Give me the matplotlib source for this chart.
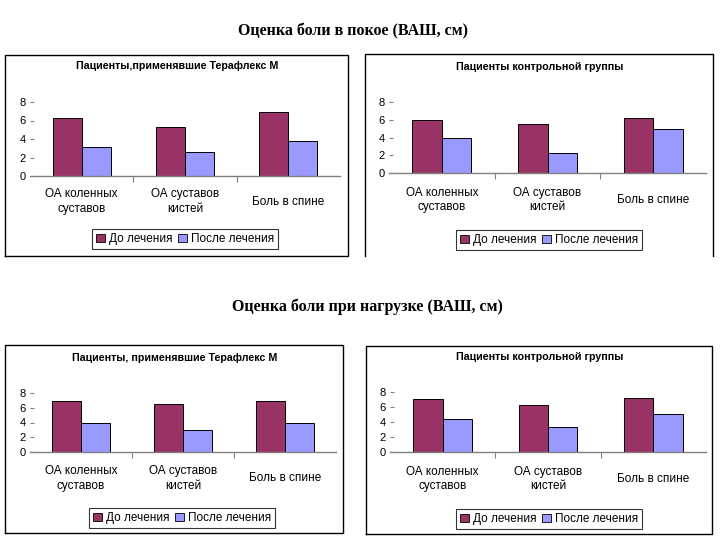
import matplotlib
matplotlib.use("Agg")
import matplotlib.pyplot as plt
from matplotlib.patches import Patch
from matplotlib.lines import Line2D
import numpy as np

plt.rcParams['font.family'] = ['Liberation Sans', 'DejaVu Sans']

categories = ["ОА коленных\nсуставов", "ОА суставов\nкистей", "Боль в спине"]
series_names = ["До лечения", "После лечения"]
yticks = [0, 2, 4, 6, 8]

rest_thera_before = [6.3, 5.3, 6.9]
rest_thera_after = [3.1, 2.6, 3.8]
rest_ctrl_before = [6.0, 5.5, 6.25]
rest_ctrl_after = [3.9, 2.2, 5.0]
load_thera_before = [6.9, 6.5, 6.9]
load_thera_after = [3.9, 3.0, 3.9]
load_ctrl_before = [7.1, 6.3, 7.25]
load_ctrl_after = [4.35, 3.3, 5.05]

title_rest = "Оценка боли в покое (ВАШ, см)"
title_load = "Оценка боли при нагрузке (ВАШ, см)"
panel_titles = ["Пациенты,применявшие Терафлекс М", "Пациенты контрольной группы",
                "Пациенты, применявшие Терафлекс М", "Пациенты контрольной группы"]

C_BEFORE = "#993366"
C_AFTER = "#9999FF"
GRAY = "#808080"

W, H = 720, 540
fig = plt.figure(figsize=(7.2, 5.4), dpi=100)
fig.patch.set_facecolor("white")


def fx(x):
    return x / W


def fy(y):
    return 1 - y / H


def box(x0, y0, x1, y1, bottom=True):
    pts = [(x0, y1), (x0, y0), (x1, y0), (x1, y1)]
    if bottom:
        pts.append((x0, y1))
    xs = [fx(p[0]) for p in pts]
    ys = [fy(p[1]) for p in pts]
    fig.add_artist(Line2D(xs, ys, color="black", lw=1.0, transform=fig.transFigure))


def panel(ax_px, before, after, title, title_xy, leg_xy, lab_off):
    x0, x1, ytop, yzero = ax_px
    ax = fig.add_axes([fx(x0), fy(yzero), (x1 - x0) / W, (yzero - ytop) / H])
    idx = np.arange(len(categories))
    bw = 0.28
    ax.bar(idx - bw / 2, before, bw, color=C_BEFORE, edgecolor="black", lw=0.7)
    ax.bar(idx + bw / 2, after, bw, color=C_AFTER, edgecolor="black", lw=0.7)
    ax.set_xlim(-0.5, len(categories) - 0.5)
    ax.set_ylim(0, 8)
    for s in ["top", "right", "left"]:
        ax.spines[s].set_visible(False)
    ax.spines["bottom"].set_color(GRAY)
    ax.spines["bottom"].set_linewidth(1.0)
    ax.set_yticks(yticks)
    ax.set_yticklabels([str(t) for t in yticks], fontsize=8)
    ax.tick_params(axis="y", direction="in", length=3, color=GRAY, pad=3)
    ax.set_xticks([0.5, 1.5])
    ax.set_xticklabels([])
    ax.tick_params(axis="x", direction="out", length=4, color=GRAY)
    ax.patch.set_alpha(0)
    for i, lab in enumerate(categories):
        ax.annotate(lab, (i, 0), xycoords=("data", "axes fraction"),
                    xytext=(0, -lab_off), textcoords="offset points",
                    ha="center", va="center", fontsize=8.5, linespacing=1.3)
    fig.text(fx(title_xy[0]), fy(title_xy[1]), title, ha="center", va="center",
             fontsize=7.7, fontweight="bold")
    handles = [Patch(facecolor=C_BEFORE, edgecolor="black", lw=0.6),
               Patch(facecolor=C_AFTER, edgecolor="black", lw=0.6)]
    leg = fig.legend(handles, series_names, loc="center",
                     bbox_to_anchor=(fx(leg_xy[0]), fy(leg_xy[1])),
                     ncol=2, fontsize=8.5, frameon=True, fancybox=False,
                     handlelength=0.75, handleheight=0.75, handletextpad=0.3,
                     columnspacing=0.5, borderpad=0.35, borderaxespad=0)
    leg.get_frame().set_edgecolor("black")
    leg.get_frame().set_linewidth(0.8)
    return ax


fig.text(fx(353), fy(31), title_rest, ha="center", va="center", fontsize=11.5,
         fontweight="bold", family=["Liberation Serif", "DejaVu Serif"])
fig.text(fx(367), fy(307), title_load, ha="center", va="center", fontsize=11.5,
         fontweight="bold", family=["Liberation Serif", "DejaVu Serif"])

box(5, 55, 348, 256)
box(365, 54, 713, 256, bottom=False)
box(5, 345, 343, 533)
box(366, 346, 712, 534)

panel((30, 340, 102, 176), rest_thera_before, rest_thera_after,
      panel_titles[0], (177, 66), (185, 239), 18.5)
panel((389, 706, 102, 173), rest_ctrl_before, rest_ctrl_after,
      panel_titles[1], (540, 67), (549, 240), 19.5)
panel((30, 336, 393, 452), load_thera_before, load_thera_after,
      panel_titles[2], (175, 358), (182, 518), 19)
panel((390, 706, 392, 452), load_ctrl_before, load_ctrl_after,
      panel_titles[3], (540, 357), (549, 519), 19.5)

fig.savefig("out.png", dpi=100, facecolor="white")
